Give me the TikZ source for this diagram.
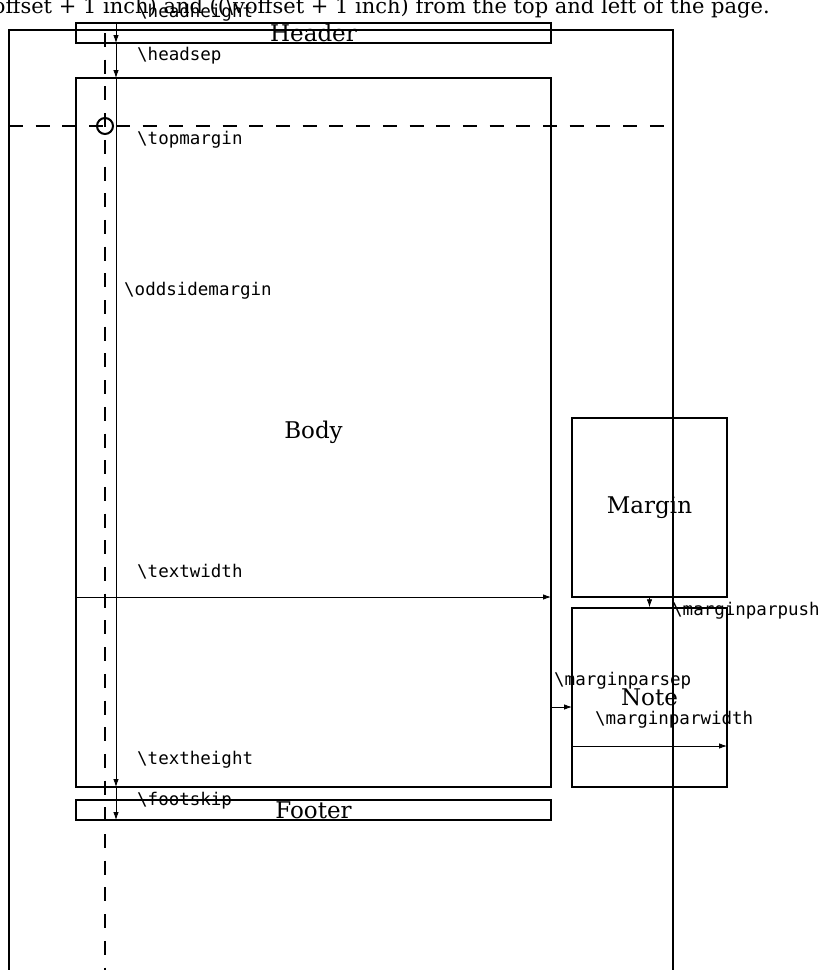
\documentclass[tikz,border=0pt]{standalone}
\usepackage{fontspec}
\newfontfamily\monofont{DejaVu Sans Mono}
\newfontfamily\serifbox{DejaVu Serif}
\usetikzlibrary{arrows.meta}
\tikzset{
  box/.style={draw, line width=1.5pt, inner sep=0pt, font=\serifbox\fontsize{23}{27}\selectfont},
  pageline/.style={line width=1.8pt},
  guideline/.style={line width=2.6pt, dash pattern=on 14pt off 12.7pt},
  dim/.style={line width=0.8pt, -{Latex[length=8pt,width=5.5pt]}},
  lbl/.style={anchor=west, inner sep=0pt, font=\monofont\fontsize{17.5}{20}\selectfont},
}
\begin{document}
\begin{tikzpicture}[x=1pt,y=-1pt]
\clip (0,0) rectangle (824,970);
% caption (partly cut by the top and left edges)
\node[anchor=base east, inner sep=0pt, font=\serifbox\fontsize{21}{25}\selectfont] (caption) at (770,13)
  {((\textbackslash hoffset + 1 inch) and ((\textbackslash voffset + 1 inch) from the top and left of the page.};
% page
\draw[pageline] (9,1000) -- (9,30) -- (673,30) -- (673,1000);
% boxes
\node[box, minimum width=475pt, minimum height=20pt] (header) at (313.5,33) {Header};
\node[box, minimum width=475pt, minimum height=709pt] (body) at (313.5,432.5) {Body};
\node[box, minimum width=475pt, minimum height=20pt] (footer) at (313.5,810) {Footer};
\node[box, minimum width=155pt, minimum height=179pt] (margin) at (649.5,507.5) {Margin};
\node[box, minimum width=155pt, minimum height=179pt] (note) at (649.5,697.5) {Note};
% redraw page right edge over the margin boxes
\draw[pageline] (673,30) -- (673,1000);
% guides
\draw[guideline] (9,126) -- (673,126);
\draw[guideline, dash phase=-3pt] (105,30) -- (105,1000);
\draw[line width=2pt] (105,126) circle (8pt);
% vertical dimension line
\coordinate (v0) at (116,23);
\coordinate (v1) at (116,43);
\coordinate (v2) at (116,78);
\coordinate (v3) at (116,787);
\coordinate (v4) at (116,820);
\draw[dim] (v0) -- (v1);
\draw[dim] (v1) -- (v2);
\draw[dim] (v2) -- (v3);
\draw[dim] (v3) -- (v4);
% horizontal dimensions
\coordinate (tw0) at (76,597);
\coordinate (tw1) at (551,597);
\draw[dim] (tw0) -- (tw1);
\coordinate (ms0) at (551,707);
\coordinate (ms1) at (572,707);
\draw[dim] (ms0) -- (ms1);
\coordinate (mw0) at (572,746);
\coordinate (mw1) at (727,746);
\draw[dim] (mw0) -- (mw1);
\draw[dim] (margin.south) -- (note.north);
% labels
\node[lbl] (headheight) at (137,13) {\textbackslash headheight};
\node[lbl] (headsep) at (137,56) {\textbackslash headsep};
\node[lbl] (topmargin) at (137,140) {\textbackslash topmargin};
\node[lbl] (oddsidemargin) at (124,291) {\textbackslash oddsidemargin};
\node[lbl] (textwidth) at (137,572) {\textbackslash textwidth};
\node[lbl] (textheight) at (137,760) {\textbackslash textheight};
\node[lbl] (footskip) at (137,801) {\textbackslash footskip};
\node[lbl] (marginparpush) at (672,611) {\textbackslash marginparpush};
\node[lbl] (marginparsep) at (554,681) {\textbackslash marginparsep};
\node[lbl] (marginparwidth) at (595,720) {\textbackslash marginparwidth};
\end{tikzpicture}
\end{document}
